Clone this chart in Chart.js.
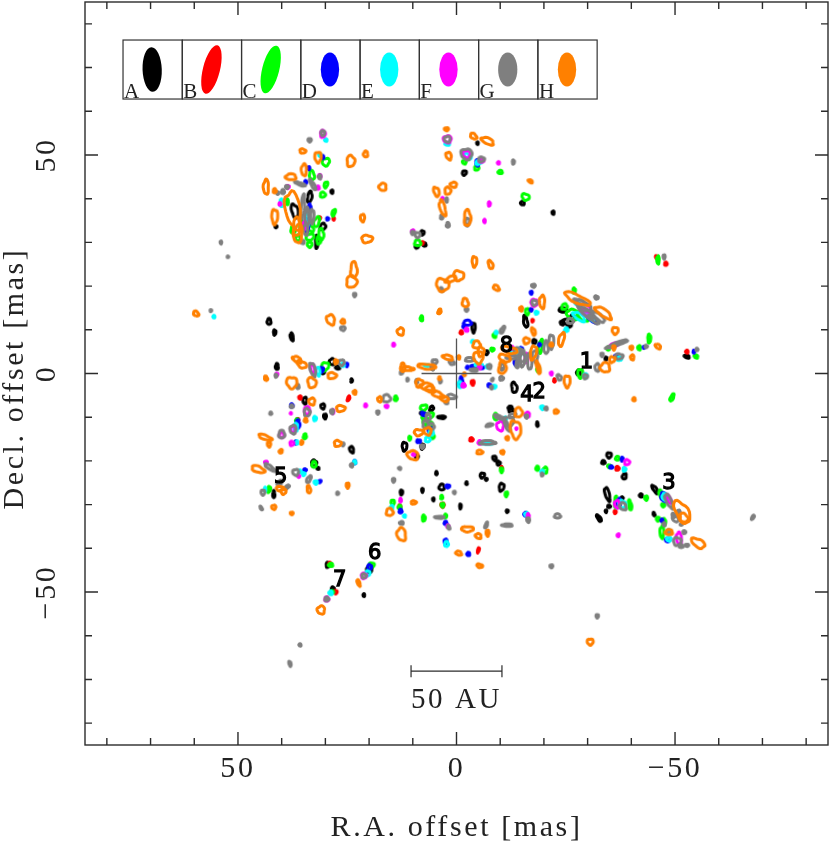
<!DOCTYPE html>
<html>
<head>
<meta charset="utf-8">
<style>body{margin:0;background:#fff}canvas{display:block}</style>
<script src="https://cdn.jsdelivr.net/npm/chart.js@4"></script>
</head>
<body>
<canvas id="chart" width="830" height="844"></canvas>
<script>
// Maser spots per epoch: [ra, dec, width, height, tilt], offsets and sizes in mas
const spotsA = [[37,37.2,1.3,3,-15],[33.6,40.4,0.8,2.4,10],[28.5,41.6,0.3,0.6,0],[30.6,33.6,1,1.4,30],[32,30.1,0.4,2.8,0],[41.3,33.6,0.3,0.3,0],[7.8,32.2,0.6,0.8,0],[7.3,29.5,0.5,0.6,0],[9.1,29,0.6,0.4,0],[-1.8,45.9,0.7,0.9,30],[-4.8,52.7,0.2,0.4,0],[-15.1,39,0.7,0.7,0],[-22.1,36.8,0.3,0.6,0],[-3.9,10.5,0.6,2,0],[-15.8,11.9,0.7,2.6,-10],[-24.2,11.6,0.7,0.8,0],[-26.5,12.6,0.8,1.4,0],[-24,14.6,0.8,0.7,20],[-25.8,11,0.8,0.6,0],[-6.8,4.8,0.7,0.7,0],[-13.2,-3.2,1,2.2,-10],[-34.2,3.4,0.3,0.6,0],[-27.9,0.2,0.7,1,0],[-52.7,3.9,1,0.5,20],[-17.8,7.3,0.6,0.8,0],[5.7,-8,0.6,1,30],[7.8,-9.1,0.8,0.4,0],[3.4,-10,1.6,0.4,0],[11.9,-16.7,0.9,1.8,0],[9.1,-19,0.5,0.7,0],[4.6,-22.8,0.2,0.6,0],[-2.3,-25.1,0.2,0.5,0],[-5.9,-23.3,0.8,1,30],[-6.8,-24.2,0.3,0.3,0],[-8.7,-19.4,0.6,0.9,-25],[-9.6,-20.5,0.6,0.8,-25],[-10.3,-26,0.9,1.6,10],[-18.5,-11.6,0.2,0.9,-5],[-11.6,-31.5,0.3,0.4,0],[12.6,-27.2,0.4,0.9,0],[7.8,-26.7,0.2,0.7,0],[5.3,-28.8,0.2,0.5,0],[-0.9,-30.4,0.2,0.9,0],[3.4,-26,1,1.2,0],[-12.3,-7.8,0.8,0.5,0],[-34.9,-18.7,0.9,1,0],[-33.6,-20.3,0.6,0.6,-30],[-38.4,-23.5,0.7,1.2,15],[-34.5,-27.6,0.8,3,-15],[-32.6,-33.1,0.5,1.6,-35],[-34.2,-31.5,0.2,0.4,0],[-34.9,-30.4,0.5,0.4,0],[-37.9,-28.5,0.3,0.4,0],[-42.2,-27.9,0.5,0.6,-30],[-45.4,-26.5,0.6,2,-35],[-45.2,-32.2,0.2,0.7,-20],[42.9,11.9,0.7,1.2,0],[41.6,9.4,0.4,1,0],[37.7,8.4,0.5,1.6,-10],[41.1,1.6,0.5,1.2,0],[28.5,2.7,1,1.2,0],[30.6,0.5,0.6,1,0],[27.2,1.4,0.8,0.6,20],[24,-1.6,0.2,0.6,0],[34.7,-6.2,0.7,1.4,0],[30.6,-7.5,0.7,1,0],[30.1,-9.8,0.5,0.9,0],[24,-17.4,0.7,1.3,-15],[32.6,-20.5,1,1.2,0],[41.8,-27.6,0.3,1.5,0],[31.7,-21.7,0.3,0.3,0],[7.8,-16.7,0.6,1,10],[29.5,-43.8,0.5,1,0],[21.2,-50.7,0.2,0.5,0],[28.3,-49.3,0.5,0.8,0],[19.9,-44.7,1,1.6,20],[-25.3,12,2,1,-20],[-24.5,14.5,1.5,0.8,0],[-12.5,-8.5,1,0.6,0]];
const spotsB = [[31.3,35.6,0.2,0.4,0],[28.1,35.4,0.2,0.4,0],[7.8,29.9,0.3,0.4,0],[-47.9,25.1,0.4,0.6,0],[-45.7,26.7,0.2,0.4,0],[-3.7,-2.1,0.5,0.9,0],[-1.1,9.4,0.4,0.6,0],[-17.4,12.1,0.2,0.4,0],[-52.7,5,0.4,0.5,0],[-22.4,-1.6,0.2,0.6,0],[35.8,-5.5,0.4,0.6,0],[24.7,-5.7,0.3,1,20],[36.3,-10.5,0.3,0.3,0],[-3.4,-15.1,0.6,0.6,30],[-5,-40.4,0.2,1,15],[-36.8,-21.7,0.6,0.7,0],[-36.3,-31.7,0.3,0.5,0],[3.2,-30.1,0.6,0.7,0],[13,-30.4,0.3,0.5,0],[-10.3,-21.5,0.2,0.3,0],[27.6,-50,0.4,0.6,0],[29,-43.5,0.3,0.5,0]];
const spotsC = [[29.9,48.4,1.4,1.6,30],[29.9,43.2,0.6,1.2,20],[30.6,40.9,1,1,0],[28.1,36.8,0.5,1.4,20],[33.1,45.4,0.9,2,-10],[33.6,32.9,1.5,2,0],[32,34.7,1,2.2,20],[37.4,32.9,0.8,1.6,0],[33.6,29.5,0.9,1,0],[38.8,39.3,0.5,1.2,0],[8.9,29.9,1.2,1.2,0],[-4.6,47,0.8,0.8,0],[-1.8,48.4,0.7,0.7,0],[-10,46.1,0.8,0.6,0],[-15.8,40.4,1.6,1.2,30],[-46.1,26,0.4,1.6,0],[8,12.6,0.4,1,0],[-26.9,19,0.4,1,0],[-24.7,15.3,1,1.2,40],[-28.8,13,3,1,40],[-16.2,14.2,0.7,1.2,0],[-8.7,8.7,0.5,0.8,0],[-8.2,5.5,0.6,0.5,0],[-19.2,6.2,0.7,3,10],[-18.7,0.9,0.5,0.9,0],[-34.7,5.7,0.4,0.6,0],[-41.8,5.9,0.5,0.8,0],[-44.1,8,0.5,1.8,0],[-28.3,0,1,1.8,0],[-49.3,-5.5,0.5,1.6,25],[-54.8,3.9,0.7,0.5,30],[30.1,1.6,1.4,1.8,30],[13.9,-5.7,0.5,0.9,0],[36.5,-10.7,0.5,0.5,0],[34.7,-14.4,0.5,1,10],[32.6,-20.8,0.8,1.2,0],[42.9,-26.5,0.5,1.2,10],[10.7,-14.8,0.3,0.7,0],[6.6,-9.8,2.6,1.2,-20],[6.2,-11.6,1.2,1,0],[5.5,-14.4,0.6,0.9,0],[14.6,-29.5,0.6,1,0],[13,-30.6,0.5,0.8,0],[7.5,-33.1,0.5,1.2,0],[3.4,-28.3,0.3,0.7,0],[3.2,-30.1,0.5,0.7,0],[2.5,-32.6,0.3,0.7,0],[-10.3,-22.1,0.4,0.9,0],[-11.4,-27.6,0.4,0.9,10],[-18.5,-21.7,0.5,0.8,0],[-20.3,-22.1,0.7,1.2,0],[-36.8,-19.4,0.7,0.7,0],[-34.9,-21.2,0.5,0.4,0],[-36.5,-29.5,0.5,2.6,0],[-39.7,-30.1,0.5,2.2,-10],[-43.4,-28.5,0.5,0.8,0],[-46.8,-27.6,0.6,1.8,-20],[-47.3,-30.1,0.6,0.6,0],[-47,-36.3,0.7,2.6,0],[-46.1,-33.3,0.6,0.7,0],[-8.9,-9.8,0.4,1.2,0],[28.8,-43.8,0.8,0.6,0],[19.4,-43.8,1,0.8,0],[28.5,-50,0.6,0.4,-30],[33.6,31.5,1.5,2,0],[31,31.8,1,2.5,0],[36.3,31,0.8,1.2,0],[7.5,-7.8,1.4,1,-20],[-26.5,13.5,2.5,2,40],[7,-11,1.2,1.5,0],[35.5,34,0.6,2,0],[31.5,30.5,0.8,1.5,0],[-9,-10,0.5,1,0],[-47.5,-34,0.5,1.5,0]];
const spotsD = [[33.8,47,0.3,0.5,0],[34.5,43.8,0.3,0.6,0],[29.5,35.4,0.3,0.4,0],[30.6,49.5,0.3,0.6,0],[33.6,37.9,0.4,1.6,0],[34.2,34,0.7,2.8,0],[-4.8,47.9,0.4,0.7,0],[-4.8,48.4,0.6,0.9,0],[-17.1,18.5,0.3,0.5,0],[-2.5,11.6,1.6,1,0],[-1.8,10.7,0.5,0.5,0],[-1.1,-1.8,0.5,2,0],[-7.5,-2.7,0.5,0.5,0],[-2.5,1.4,0.3,0.4,0],[-19,6.6,0.3,0.4,0],[-14.8,5.5,0.5,0.8,0],[-54.3,5,0.2,0.5,0],[-36.5,3.9,0.5,0.5,0],[-42.9,6,0.2,0.3,0],[-5.9,1.4,0.5,0.4,0],[-17.1,14.6,0.3,0.4,0],[25.1,2,0.3,0.6,0],[30.8,0.9,0.5,0.9,0],[37.7,-7.3,0.4,0.6,0],[36.3,-11.6,0.7,1.8,0],[36.8,-15.8,0.2,0.6,0],[34.7,-22.1,0.5,0.4,-30],[31.3,-24.7,0.5,0.3,-30],[23.3,-20.3,0.3,0.6,0],[7.8,-9.1,0.3,0.4,0],[8.4,-15.5,0.2,0.4,0],[2,-25.8,0.7,0.5,0],[12.8,-31.5,0.5,0.7,0],[2.5,-34.2,0.5,0.6,0],[2.5,-38.4,0.5,0.9,0],[-2.7,-41.3,0.5,0.6,0],[-47.5,-28.3,1.2,2,-25],[-47,-33.6,0.3,0.4,0],[-48.2,-38.1,0.6,0.6,0],[-35.4,-21.4,0.5,0.4,0],[-37.9,-19.6,0.3,0.7,0],[-37.2,-29.5,0.6,1.6,0],[-15.8,-32.2,0.6,0.7,0],[8.9,-15.5,0.2,0.5,0],[7.3,-9.4,0.6,0.4,0],[19.9,-44.3,0.7,1,0],[-31,12.5,2.4,0.8,40],[-13.5,2.5,0.5,1,0],[-4,1.6,1.5,0.4,0],[6,-13,0.8,1.2,0]];
const spotsE = [[29.9,53.4,0.4,0.4,0],[40,39,0.6,1.6,-5],[34.2,35.2,0.6,3.6,0],[2.1,52.5,0.9,0.4,0],[-2.5,49.7,1.6,0.9,35],[-4.8,48.2,0.5,0.7,0],[31.3,50,0.3,0.5,0],[-5.3,48.4,0.6,0.5,0],[-25.1,10,0.6,0.7,0],[-28.1,15.8,2,0.5,25],[-30.4,13,2.8,0.4,40],[-37.2,3.4,0.9,0.7,0],[-29.5,-0.5,0.5,0.8,0],[-8.7,-3,0.5,0.5,0],[-0.7,-2.5,0.6,1.2,0],[-7.1,1.6,0.5,0.5,0],[-3.7,7.3,0.4,0.4,0],[-18.3,13.9,0.5,0.5,0],[-9.1,9.4,0.4,0.4,0],[-14.4,4.8,0.5,1.6,0],[6.8,1.8,1,0.2,0],[-19.6,-7.8,0.5,0.7,-20],[55.5,13,0.3,0.4,0],[31.7,0.5,0.7,1.8,-10],[26,2,0.5,0.7,0],[32.4,-10.3,0.5,0.8,0],[36.8,-12.3,0.7,1.6,0],[36.5,-15.8,0.3,0.6,0],[32.2,-24.9,0.6,0.6,0],[23.3,-20.3,0.4,0.6,0],[35.8,-22.4,0.3,0.5,0],[43.8,-26.5,0.2,0.8,0],[14.8,-30.6,0.4,0.7,0],[11.9,-32.6,0.3,0.4,0],[2.3,-39,0.7,1,0],[6.6,-15.1,0.9,1,0],[-7.1,-16,2,0.2,0],[-11,-10.5,0.5,1,30],[-19.6,-22.4,0.5,0.4,0],[-16,-32.2,0.6,0.6,0],[-38.4,-21.9,0.5,0.7,0],[-37.9,-29.9,1.4,1.6,-25],[-47.7,-28.3,1,1.6,-25],[-48.6,-37.9,0.9,0.7,0],[-48.6,-36,0.3,0.3,0],[20.3,-45.7,0.8,1,0],[28.8,-50.2,0.6,0.7,0],[-28,13,3,1.2,35],[-13,5,1,1,0],[-5,2,1.5,0.4,0],[5.8,-13.5,0.8,1.2,0],[35,-23,0.5,0.5,0]];
const spotsF = [[30.6,54.8,0.9,1.4,0],[31.3,45.2,0.4,0.5,0],[38.6,42.7,0.5,0.5,0],[40.4,38.8,0.3,0.4,0],[31.7,42.5,0.4,0.6,0],[2.1,53.6,1.6,1.4,0],[-2.3,50.2,1.6,1.4,35],[10,32.5,0.4,0.6,0],[3.2,40,0.2,0.4,0],[-9.6,48.2,0.3,0.4,0],[-5.7,48.7,0.8,0.6,0],[-7.5,38.8,0.3,0.8,0],[-6.4,34.9,0.2,0.6,0],[14.4,6.6,0.3,0.5,0],[-17.8,16.2,1.4,1.4,0],[-2.3,10,0.5,0.6,0],[-1.6,-2.7,0.6,0.7,0],[-5.3,1.4,0.5,0.5,0],[-12.6,5.9,0.5,0.5,0],[-29.7,13.9,3,1,40],[-36,6.5,2,0.6,-20],[-21.7,0,0.3,0.5,0],[32.9,1,0.7,2.2,-15],[34.2,-8.5,1,1.8,0],[41.1,-0.2,0.3,0.4,0],[28.3,-8.7,0.4,0.7,0],[20.8,-7.3,0.3,0.5,0],[16,-7.5,0.5,0.4,0],[37.9,-9.1,0.1,0.2,0],[40,-14,0.8,1.2,0],[37.7,-16,0.7,0.8,0],[37.4,-12.8,0.8,1.4,0],[43.6,-20.3,0.5,0.3,0],[36.1,-23.5,0.3,0.3,0],[12.8,-29,0.2,0.7,0],[9.8,-18.5,0.4,0.4,0],[-16.2,-9.4,0.9,0.9,0],[-13.7,-12.6,0.1,0.2,0],[-5.3,-15.8,0.5,0.7,0],[-16.4,-32.6,0.3,0.9,0],[-39,-20.3,1,1,0],[-37,-37,0.3,0.5,25],[-50.9,-37.7,1,2.6,-5],[-48.6,-28.8,0.6,2,-25],[-36.7,-29.9,0.9,1.6,0],[2,-34.9,0.3,0.4,0],[21.2,-46.3,1,1,0],[29.7,-51.6,0.7,0.8,0],[-29.5,15,2.6,1.2,30],[-16,3.5,0.5,2,0],[34.8,34,0.3,1.8,0],[-10,-12,1.4,2,0]];
const spotsG = [[30.6,55,0.7,1,0],[33.6,53.4,0.6,0.6,0],[35.8,43.4,2.5,0.4,20],[32.9,43.2,0.5,2.6,-30],[39.7,41.6,0.5,0.8,0],[40.9,41.3,0.4,0.4,0],[38.8,42.7,0.5,0.5,0],[35.2,38.1,0.6,5.5,5],[34.2,35.9,0.7,4,0],[35.2,30.1,0.6,0.6,0],[53.9,30,0.2,0.5,0],[52.3,26.7,0.2,0.2,0],[8.9,31.7,1,1,0],[10,32.2,0.5,0.6,0],[2.1,53.6,1.2,1.2,0],[-2.3,50.2,2.4,2.2,35],[3.4,35.8,0.4,0.8,0],[2,34,0.5,0.9,0],[-2.5,34.7,0.7,1.6,0],[-5.7,49,1.2,0.9,0],[-13,48.4,0.3,0.8,0],[2.3,39.7,0.3,0.8,0],[-47.5,26.7,0.3,0.8,0],[-17.6,20.1,0.7,0.5,0],[-17.8,16.2,1,1,0],[3.4,19.2,0.4,0.8,-30],[-2.3,14.6,0.5,0.5,0],[-32,17.4,0.7,0.5,30],[-29.7,13.9,4,1.2,40],[-28.1,16.4,2.6,0.7,20],[-31.5,12.3,2.8,0.6,40],[-36.8,6.8,5,0.5,-20],[-32.2,1.4,0.8,1.6,0],[-37.2,3.9,1.6,1,0],[-33.3,4.3,0.4,0.6,0],[-29.5,-0.7,0.8,0.8,0],[-23.5,-0.9,0.7,1.2,-30],[-55,5.5,0.3,0.4,0],[-43.4,6.2,0.4,0.4,0],[-10.5,10,0.5,1.6,30],[-15.1,3.2,0.9,3,0],[-16.7,2.7,0.8,3.4,-5],[-21.7,7.3,0.9,3,0],[-12.6,3.7,2.2,0.6,0],[-13.9,2.1,0.5,1.5,0],[-7.5,1.6,0.7,0.8,0],[-8.2,-1.4,0.2,0.5,30],[-10.3,-1.1,0.7,0.7,0],[-10.5,1.6,0.6,1.5,0],[-8,-3.2,0.3,0.5,0],[-3,3.2,1.8,0.7,0],[1.1,2.5,1.2,0.6,25],[5,2.7,1,0.8,0],[5.5,1.4,0.5,1,0],[12.6,0.2,0.4,0.5,0],[11.2,-1.4,0.2,0.5,0],[9.1,-1.8,0.3,0.7,0],[3.7,-1.8,0.3,0.5,0],[1.1,-5.3,1.8,0.8,10],[2.3,-6.6,0.5,0.5,0],[-20.5,-8,0.4,0.5,0],[-7.1,-15.8,3.4,0.7,0],[-7.5,-11.8,1.4,0.4,-15],[-9.8,-10,2.4,0.5,20],[-11.6,-12,0.6,2.6,-25],[-12.8,-9.6,1.4,0.7,-20],[-16,-9.8,0.4,0.6,0],[13,-21.7,0.4,0.3,30],[14.4,-24.4,0.4,0.7,0],[0.5,-27.2,0.3,0.4,0],[3.9,-32.9,2,0.3,0],[1.8,-35.2,0.3,0.8,-20],[-6.8,-34.7,0.3,1.3,20],[-11.6,-34.7,2.2,0.4,0],[-16.4,-33.5,0.5,0.9,-10],[-23.1,-32.6,1.2,0.8,0],[-21.7,-44.1,0.5,0.5,0],[-32.2,-55.5,0.4,0.6,0],[-67.8,-32.9,0.3,0.9,30],[12.6,-34.2,0.7,0.5,0],[-19.6,-23.1,0.3,0.5,0],[7.8,-16.7,0.6,0.6,0],[5.7,-12.1,1,1.2,0],[-38.1,-30.4,1.2,1.6,-30],[-48.6,-29.2,1,3.4,-25],[-49.8,-32.6,0.3,0.5,0],[-51.4,-34.5,0.3,0.3,0],[-50.9,-31.7,0.4,0.8,-20],[-47.5,-34.5,0.3,0.6,0],[-50.5,-38.4,1.6,1.6,0],[-52.1,-36.3,0.5,0.5,0],[-52.7,-39.3,0.7,0.3,0],[-51.4,-39.5,0.7,0.5,0],[-48.6,-36.3,0.9,0.7,0],[56.2,14.4,0.2,0.3,0],[26,10.3,0.9,0.7,0],[23.3,18,0.4,0.6,0],[41.3,-0.5,0.3,0.5,0],[36.3,-3,0.4,0.8,0],[32.9,0.9,1,3,-15],[26.3,2.5,1.1,1.1,0],[42.5,-9.1,0.3,0.4,0],[37.7,-7.5,0.5,0.5,0],[34.2,-8.9,1.2,1.6,0],[28.5,-8.7,0.5,0.8,0],[16,-5.7,1.6,1.5,0],[18,-8.9,0.4,0.6,0],[40,-13.9,1.2,1.6,0],[37.4,-12.8,1.2,1.8,0],[26,-16.2,0.4,0.5,0],[42.7,-21.5,2.8,0.6,35],[36.8,-22.6,1.2,1.2,0],[38.8,-26,1.2,0.4,-40],[44.3,-27.2,0.7,1,0],[33.8,-24.2,0.6,1.6,30],[24,-21,0.4,0.6,0],[27.2,-27.4,0.3,0.4,0],[44.7,-30.8,0.2,0.8,-30],[7.1,-11.6,1,1.6,0],[21.2,-46.3,0.8,0.8,0],[29.7,-51.6,0.7,0.7,0],[35.8,-62.1,0.3,0.4,-20],[38.1,-66.4,0.3,1,-15],[31.3,45,0.4,0.8,0],[-15,4,1.4,2.6,0],[-29,15.5,3.6,1.8,30],[-32.5,13,3.5,1,40],[-26,12,1.2,1,0],[-14,5,1.6,1.6,0],[-18,4,1,2.5,0],[-20.5,6,0.8,2.8,0],[-4,0.8,1.5,0.5,0],[6.5,-10,0.8,1.6,0],[34.5,33,0.8,2.5,0],[33,36,0.6,3,0],[-12,-11,2,2,0],[-50,-33,1,2,-30],[40.5,-25,1.2,0.7,-40]];
const spotsH = [[43.6,42.7,1,3.2,0],[41.6,41.8,0.5,0.8,0],[41.6,35.9,1.2,3.2,0],[37.4,37.4,3.2,8.5,-10],[36.5,33.6,1.5,4,0],[37.9,45,2.2,1.2,0],[35.2,50.9,1.2,0.8,10],[34.9,46.6,1,2.5,0],[31.7,49.5,1.3,2.2,0],[24.2,48.6,1.6,2.4,0],[20.8,50.2,0.8,1.2,0],[16.9,42.7,1.5,1.5,30],[21.5,35.6,0.8,1.5,0],[20.5,30.8,2.3,1.5,0],[23.5,23.7,1.3,3.5,0],[24,21,2.2,2.5,0],[2.3,55.9,0.8,0.5,0],[-3.9,54.3,1.5,0.9,40],[-7.1,53.2,2.8,1.2,25],[1.8,49.8,1,1.6,-20],[4.6,41.6,1,2,-20],[2,41.8,1.2,1.5,0],[0.7,43.2,1.3,1,0],[3.2,37.9,1,3.5,-15],[-2.5,35.6,1.3,3.5,0],[-16.9,44,0.9,0.4,30],[-4.1,25.6,0.9,2.2,0],[-7.8,24.9,0.8,1.8,-20],[-9.1,19.6,1.4,0.8,40],[-0.5,22.4,2.2,2,30],[3.2,20.3,2.8,2.6,40],[-2,16.2,1.2,1.8,-10],[3.9,14.2,0.5,1,20],[12.8,9.6,1.3,1.5,0],[-19.6,16.4,1,2.8,0],[-14.8,14.8,0.5,0.8,0],[-27.6,17.1,6.2,1.6,25],[-33.6,13.9,4.2,1.4,35],[-36.3,9.8,1.2,1.4,0],[-17.6,9.6,0.6,1.6,-20],[-24,7.8,1,3,15],[-21.7,6.6,0.5,0.6,0],[-16,7.5,1.2,1.2,0],[-12.1,5.4,3.5,1.2,15],[-17.6,4.8,1.2,3,10],[-18.7,1.4,0.5,2.8,-15],[-10.5,1.4,1.5,2.8,5],[-4.6,6.6,1.5,1.5,0],[-5,3.7,2,2.5,0],[-25.3,-1.8,1.2,2.5,0],[-34,1.4,2,2,0],[-35.6,3.2,1,1.2,30],[-40,5.9,0.5,0.6,0],[-40.2,3.7,0.6,1,0],[-46.1,6.2,1.2,0.7,35],[-40.6,-5.9,0.4,0.6,0],[-36,5.9,0.4,0.8,0],[2,3.7,2.2,0.8,15],[6.8,1.6,4,0.9,5],[11.2,1.1,2.6,0.7,5],[12.3,1.4,0.8,1.8,0],[6.8,-3,2.8,1.4,10],[4.3,-4.8,2.8,1,25],[-0.5,3.7,0.4,0.6,0],[-1.8,-0.2,0.3,0.5,0],[3.9,-1.1,0.3,0.5,0],[-22.8,-8.7,0.8,0.7,0],[-13.5,-12.8,2.2,4,-10],[-14.2,-8.9,1.5,2,0],[-11.6,-14.8,0.5,0.6,0],[59.6,13.7,1.2,0.8,40],[28.8,12.3,1.6,2.2,-20],[26,11.9,0.7,0.8,0],[36.5,3.2,2,1,30],[35.4,2.1,2.2,1.2,30],[43.6,-1.1,0.5,0.9,-20],[37.7,-2.1,2.2,2.4,-20],[33.1,-2.1,1.7,2.2,-20],[28.5,-0.5,1.8,1.2,0],[27.6,2.7,0.5,0.8,0],[23.3,-4.3,0.5,0.7,0],[33.1,-6.4,1.2,1.4,0],[34.5,-10.7,0.5,0.7,0],[26.5,-8,1.8,1.2,0],[17.6,-5.9,0.7,1,0],[43.8,-14.6,3,0.8,20],[42.9,-16.2,0.6,1,0],[35.4,-15.8,0.3,0.7,10],[27.2,-16,1.4,1.2,0],[40.2,-17.8,0.5,0.7,30],[45.4,-21.9,2.9,1.2,20],[40.4,-26.3,1.5,0.8,0],[33.8,-26.5,0.6,1.6,-10],[24.9,-25.6,0.5,1,0],[41.8,-30.6,0.8,0.8,0],[37.7,-32,0.5,0.4,0],[8.7,-13.5,1.8,1.2,0],[6.6,-13.2,1.5,1.5,0],[10,-18.7,2.4,1.8,20],[9.8,-29.5,1,0.6,0],[15.3,-31.7,1.4,1.5,0],[12.6,-36.8,1.8,2.8,-10],[-5.3,-18,1.2,0.7,0],[-10.5,-18,0.6,0.6,0],[-2.5,-35.6,2.6,1,0],[-5,-37.2,1.2,0.9,30],[-7.1,-36.5,0.5,1.2,0],[-0.5,-41.1,1.2,0.7,20],[-5.3,-44,1.2,0.6,15],[-51.6,-31.7,2.6,5.5,-30],[-48.6,-36.3,1.5,1,0],[-55.3,-38.8,3.2,1.6,30],[-30.6,-61.4,1.2,1.2,0],[31,-54.1,1.5,1.7,0],[22.4,-47.9,0.4,1.4,-20],[36.3,32,1.8,4,5],[-11,3.5,2.5,1.5,20],[1.3,21.6,2.5,1,-25],[8.5,-2.2,1.5,1.6,0],[6,-3.6,2,1.2,20],[2.8,-5.8,1.8,0.9,20],[-5.6,5,1.2,2,0],[-52,-33,1.5,2,-30],[39.6,-27,1,1,0]];

const epochNames = ['A', 'B', 'C', 'D', 'E', 'F', 'G', 'H'];
const epochColors = ['#000000', '#ff0000', '#00ff00', '#0000ff', '#00ffff', '#ff00ff', '#7f7f7f', '#ff8000'];
const epochSpots = [spotsA, spotsB, spotsC, spotsD, spotsE, spotsF, spotsG, spotsH];
// Restoring beam of each epoch, mas and degrees
const beamWidths = [4.4, 3.9, 3.9, 4.2, 4.2, 4.2, 4.4, 4.2];
const beamHeights = [10.2, 11.4, 11.2, 7.8, 7.8, 7.8, 7.8, 7.8];
const beamTilts = [-2, 14, 14, 0, 0, 0, 0, 0];

const tickValues = [-80, -70, -60, -50, -40, -30, -20, -10, 0, 10, 20, 30, 40, 50, 60, 70, 80];
const crossX = [8, -8];
const crossY = [0, 0];
const barX = [10.4, -10.4];
const barY = [-68.1, -68.1];
const featureLabels = ['1', '2', '3', '4', '5', '6', '7', '8'];
const featureX = [-29.7, -18.9, -48.6, -16.1, 40.2, 18.7, 26.7, -11.4];
const featureY = [2.5, -4.3, -25.1, -5.1, -23.7, -41.3, -47.4, 6.1];

const serif = '"Liberation Serif", serif';
const lineColor = '#2b2b2b';

// Each spot is an open, slightly lumpy ring drawn on its own little canvas
function spotImage(ctx) {
    if (ctx.type !== 'data') return 'circle';
    const s = ctx.raw;
    const xs = ctx.chart.scales.x;
    const k = Math.abs(xs.getPixelForValue(1) - xs.getPixelForValue(0));
    const rx = s.w * k / 2 + 0.4, ry = s.h * k / 2 + 0.4;
    const size = Math.ceil(2 * Math.max(rx, ry) * 1.2 + 10);
    const c = document.createElement('canvas');
    c.width = c.height = size;
    const g = c.getContext('2d');
    const tilt = s.a * Math.PI / 180, phase = s.x * 3 + s.y * 5;
    g.strokeStyle = ctx.dataset.borderColor;
    g.lineWidth = 3;
    g.lineJoin = 'round';
    g.translate(size / 2, size / 2);
    g.rotate(tilt);
    g.beginPath();
    for (let t = 0; t < 24; t++) {
        const th = t / 24 * Math.PI * 2;
        const lump = 1 + 0.1 * Math.sin(3 * th + phase) + 0.06 * Math.sin(5 * th + phase * 2);
        g.lineTo(rx * lump * Math.cos(th), ry * lump * Math.sin(th));
    }
    g.closePath();
    g.stroke();
    return c;
}

// Chart.js paints the first dataset last, so epoch H goes first to stay on top
const spotDatasets = epochNames.map((name, i) => ({
    label: name,
    data: epochSpots[i].map(([x, y, w, h, a]) => ({ x, y, w, h, a })),
    borderColor: epochColors[i],
    backgroundColor: epochColors[i],
    pointStyle: spotImage,
    pointRadius: 2,
    showLine: false
})).reverse();

const crossLine = (x, y) => x.map((v, i) => ({ x: v, y: y[i] }));

const markup = {
    id: 'markup',
    beforeDraw(chart) {
        chart.ctx.letterSpacing = '2.6px';
    },
    afterDraw(chart) {
        const { ctx, chartArea: area, scales: { x, y } } = chart;
        ctx.save();
        ctx.strokeStyle = lineColor;
        ctx.lineWidth = 1.4;
        ctx.strokeRect(area.left, area.top, area.right - area.left, area.bottom - area.top);
        // inward ticks on all four sides
        ctx.beginPath();
        tickValues.forEach(v => {
            const len = v % 50 === 0 ? 13 : 7;
            const px = x.getPixelForValue(v), py = y.getPixelForValue(v);
            ctx.moveTo(px, area.bottom); ctx.lineTo(px, area.bottom - len);
            ctx.moveTo(px, area.top); ctx.lineTo(px, area.top + len);
            ctx.moveTo(area.left, py); ctx.lineTo(area.left + len, py);
            ctx.moveTo(area.right, py); ctx.lineTo(area.right - len, py);
        });
        ctx.stroke();

        // beam legend, placed in plot coordinates
        const cell = 13.56, left = 76.3, top = 76.3, boxH = 13.5;
        const x0 = x.getPixelForValue(left), y0 = y.getPixelForValue(top);
        const k = Math.abs(x.getPixelForValue(1) - x.getPixelForValue(0));
        epochNames.forEach((name, i) => {
            const bx = x0 + i * cell * k;
            ctx.strokeStyle = '#333';
            ctx.lineWidth = 1.2;
            ctx.strokeRect(bx, y0, cell * k, boxH * k);
            ctx.fillStyle = epochColors[i];
            ctx.beginPath();
            ctx.ellipse(bx + cell * k / 2 - 0.5, y0 + boxH * k / 2, beamWidths[i] * k / 2, beamHeights[i] * k / 2, beamTilts[i] * Math.PI / 180, 0, Math.PI * 2);
            ctx.fill();
            ctx.fillStyle = '#222';
            ctx.font = '21px ' + serif;
            ctx.textAlign = 'left';
            ctx.textBaseline = 'alphabetic';
            ctx.letterSpacing = '0px';
            ctx.fillText(name, bx + 1, y0 + boxH * k - 1);
        });

        // feature numbers
        ctx.fillStyle = '#000';
        ctx.strokeStyle = '#000';
        ctx.lineWidth = 1.3;
        ctx.font = '21px "DejaVu Sans"';
        ctx.textAlign = 'center';
        ctx.textBaseline = 'middle';
        featureLabels.forEach((t, i) => {
            const fx = x.getPixelForValue(featureX[i]), fy = y.getPixelForValue(featureY[i]);
            ctx.fillText(t, fx, fy);
            ctx.strokeText(t, fx, fy);
        });

        // scale bar caption
        ctx.fillStyle = '#222';
        ctx.font = '29px ' + serif;
        ctx.letterSpacing = '2.6px';
        ctx.fillText('50 AU', x.getPixelForValue(0), y.getPixelForValue(-74.7));
        ctx.restore();
    }
};

// Fixed plot box: no extra room for the outer tick labels
function pinScale(scale, side, size) {
    scale[side] = size;
    scale.paddingLeft = scale.paddingRight = scale.paddingTop = scale.paddingBottom = 0;
}

function axis(title, extra) {
    return {
        type: 'linear',
        min: -85,
        max: 85,
        afterBuildTicks(scale) {
            scale.ticks = tickValues.map(value => ({ value }));
        },
        grid: { display: false, drawTicks: false },
        border: { display: false },
        ticks: {
            autoSkip: false,
            color: '#222',
            font: { family: serif, size: 30 },
            callback: v => v % 50 !== 0 ? '' : String(v).replace('-', '\u2212'),
            ...extra.ticks
        },
        title: {
            display: true,
            text: title,
            color: '#222',
            font: { family: serif, size: 30, lineHeight: 1 },
            ...extra.title
        },
        afterFit: extra.afterFit,
        reverse: extra.reverse
    };
}

new Chart(document.getElementById('chart'), {
    type: 'scatter',
    data: {
        datasets: [
            {
                label: 'cross',
                data: crossLine(crossX, crossY),
                showLine: true, borderColor: '#555', borderWidth: 1.3, pointRadius: 0
            },
            {
                label: 'cross',
                data: crossLine(crossY, [8, -8]),
                showLine: true, borderColor: '#555', borderWidth: 1.3, pointRadius: 0
            },
            {
                label: 'scale bar',
                data: crossLine(barX, barY),
                showLine: true, borderColor: lineColor, borderWidth: 1.2,
                pointStyle: 'line', rotation: 90, pointRadius: 6, pointBorderColor: lineColor, pointBorderWidth: 1.2
            },
            ...spotDatasets
        ]
    },
    options: {
        responsive: false,
        animation: false,
        layout: { autoPadding: false, padding: { top: 2, right: 2 } },
        plugins: { legend: { display: false }, tooltip: { enabled: false } },
        scales: {
            x: axis('R.A. offset [mas]', {
                reverse: true,
                ticks: { padding: 6, maxRotation: 0 },
                title: { padding: { top: 10, bottom: 1 } },
                afterFit: s => pinScale(s, 'height', 99)
            }),
            y: axis('Decl. offset [mas] ', {
                ticks: { padding: 14, minRotation: 90, maxRotation: 90, crossAlign: 'center' },
                title: { padding: { top: 0, bottom: 0 } },
                afterFit: s => pinScale(s, 'width', 85)
            })
        }
    },
    plugins: [markup]
});
</script>
</body>
</html>
